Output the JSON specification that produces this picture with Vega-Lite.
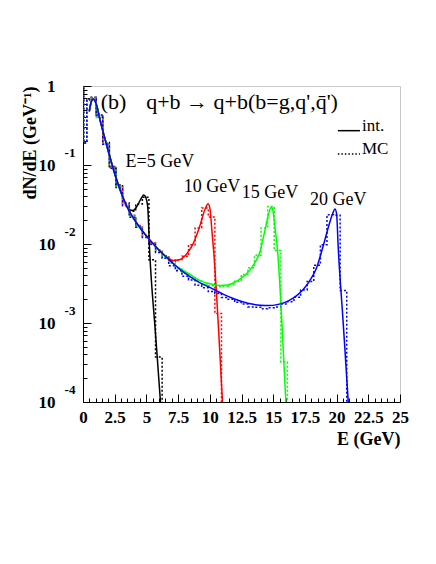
{
  "$schema": "https://vega.github.io/schema/vega-lite/v6.json",
  "width": 317,
  "height": 316,
  "autosize": "none",
  "padding": {"left": 83, "top": 86, "right": 36, "bottom": 162},
  "background": "white",
  "config": {"view": {"stroke": "#c8c8c8", "strokeWidth": 1}, "font": "Liberation Serif"},
  "datasets": {
    "int": [
      {"E":0.5,"v":0.479,"s":"5"},{"E":0.65,"v":0.631,"s":"5"},{"E":0.8,"v":0.684,"s":"5"},{"E":0.95,"v":0.646,"s":"5"},{"E":1.1,"v":0.55,"s":"5"},{"E":1.3,"v":0.398,"s":"5"},{"E":1.6,"v":0.257,"s":"5"},{"E":1.9,"v":0.17,"s":"5"},{"E":2.3,"v":0.1,"s":"5"},{"E":2.7,"v":0.0617,"s":"5"},{"E":3.2,"v":0.0372,"s":"5"},
      {"E":3.6,"v":0.0275,"s":"5"},{"E":3.95,"v":0.0266,"s":"5"},{"E":4.3,"v":0.0309,"s":"5"},{"E":4.6,"v":0.038,"s":"5"},{"E":4.79,"v":0.0417,"s":"5"},{"E":4.95,"v":0.0389,"s":"5"},{"E":5.1,"v":0.0302,"s":"5"},{"E":5.26,"v":0.00794,"s":"5"},{"E":5.7,"v":0.000794,"s":"5"},{"E":6.11,"v":0.0001,"s":"5"},{"E":6.2,"v":0.00006,"s":"5"},

      {"E":0.5,"v":0.479,"s":"10"},{"E":0.65,"v":0.631,"s":"10"},{"E":0.8,"v":0.684,"s":"10"},{"E":0.95,"v":0.646,"s":"10"},{"E":1.1,"v":0.55,"s":"10"},{"E":1.3,"v":0.398,"s":"10"},{"E":1.6,"v":0.257,"s":"10"},{"E":1.9,"v":0.17,"s":"10"},{"E":2.3,"v":0.1,"s":"10"},{"E":2.7,"v":0.0617,"s":"10"},{"E":3.2,"v":0.0372,"s":"10"},
      {"E":3.7,"v":0.0251,"s":"10"},{"E":4.3,"v":0.0178,"s":"10"},{"E":5.0,"v":0.0126,"s":"10"},{"E":5.5,"v":0.0102,"s":"10"},{"E":6.1,"v":0.0081,"s":"10"},{"E":6.6,"v":0.0069,"s":"10"},{"E":7.1,"v":0.00617,"s":"10"},{"E":7.6,"v":0.00631,"s":"10"},{"E":8.2,"v":0.00759,"s":"10"},{"E":8.7,"v":0.0102,"s":"10"},{"E":9.2,"v":0.0166,"s":"10"},{"E":9.6,"v":0.0269,"s":"10"},{"E":9.87,"v":0.0324,"s":"10"},{"E":10.02,"v":0.0275,"s":"10"},{"E":10.15,"v":0.0158,"s":"10"},{"E":10.3,"v":0.00832,"s":"10"},{"E":11.0,"v":0.0001,"s":"10"},{"E":11.1,"v":0.00005,"s":"10"},

      {"E":0.5,"v":0.479,"s":"15"},{"E":0.65,"v":0.631,"s":"15"},{"E":0.8,"v":0.684,"s":"15"},{"E":0.95,"v":0.646,"s":"15"},{"E":1.1,"v":0.55,"s":"15"},{"E":1.3,"v":0.398,"s":"15"},{"E":1.6,"v":0.257,"s":"15"},{"E":1.9,"v":0.17,"s":"15"},{"E":2.3,"v":0.1,"s":"15"},{"E":2.7,"v":0.0617,"s":"15"},{"E":3.2,"v":0.0372,"s":"15"},
      {"E":3.7,"v":0.0251,"s":"15"},{"E":4.3,"v":0.0178,"s":"15"},{"E":5.0,"v":0.0126,"s":"15"},{"E":5.5,"v":0.0102,"s":"15"},{"E":6.0,"v":0.00832,"s":"15"},{"E":6.6,"v":0.00676,"s":"15"},{"E":7.2,"v":0.0055,"s":"15"},{"E":7.8,"v":0.00475,"s":"15"},{"E":8.4,"v":0.00415,"s":"15"},{"E":9.2,"v":0.00347,"s":"15"},{"E":10.0,"v":0.00313,"s":"15"},{"E":10.8,"v":0.00299,"s":"15"},{"E":11.4,"v":0.00302,"s":"15"},{"E":11.9,"v":0.00324,"s":"15"},{"E":12.4,"v":0.00363,"s":"15"},{"E":13.0,"v":0.00437,"s":"15"},{"E":13.5,"v":0.00562,"s":"15"},{"E":13.95,"v":0.00794,"s":"15"},{"E":14.25,"v":0.0126,"s":"15"},{"E":14.55,"v":0.0209,"s":"15"},{"E":14.75,"v":0.0275,"s":"15"},{"E":14.87,"v":0.0295,"s":"15"},{"E":15.0,"v":0.0251,"s":"15"},{"E":15.15,"v":0.0158,"s":"15"},{"E":15.34,"v":0.00832,"s":"15"},{"E":16.0,"v":0.0001,"s":"15"},{"E":16.1,"v":0.00005,"s":"15"},

      {"E":0.5,"v":0.479,"s":"20"},{"E":0.65,"v":0.631,"s":"20"},{"E":0.8,"v":0.684,"s":"20"},{"E":0.95,"v":0.646,"s":"20"},{"E":1.1,"v":0.55,"s":"20"},{"E":1.3,"v":0.398,"s":"20"},{"E":1.6,"v":0.257,"s":"20"},{"E":1.9,"v":0.17,"s":"20"},{"E":2.3,"v":0.1,"s":"20"},{"E":2.7,"v":0.0617,"s":"20"},{"E":3.2,"v":0.0372,"s":"20"},
      {"E":3.7,"v":0.0251,"s":"20"},{"E":4.3,"v":0.0178,"s":"20"},{"E":5.0,"v":0.0126,"s":"20"},{"E":5.5,"v":0.0102,"s":"20"},{"E":6.0,"v":0.00832,"s":"20"},{"E":6.6,"v":0.00676,"s":"20"},{"E":7.2,"v":0.0055,"s":"20"},{"E":7.8,"v":0.00457,"s":"20"},{"E":8.5,"v":0.0038,"s":"20"},{"E":9.2,"v":0.00324,"s":"20"},{"E":10.0,"v":0.00282,"s":"20"},{"E":11.0,"v":0.00234,"s":"20"},{"E":12.0,"v":0.002,"s":"20"},{"E":13.0,"v":0.00178,"s":"20"},{"E":14.0,"v":0.00168,"s":"20"},{"E":14.6,"v":0.00166,"s":"20"},{"E":15.4,"v":0.00172,"s":"20"},{"E":16.2,"v":0.00191,"s":"20"},{"E":16.8,"v":0.00219,"s":"20"},{"E":17.4,"v":0.00269,"s":"20"},{"E":17.9,"v":0.00347,"s":"20"},{"E":18.4,"v":0.0049,"s":"20"},{"E":18.95,"v":0.00955,"s":"20"},{"E":19.4,"v":0.0174,"s":"20"},{"E":19.7,"v":0.0245,"s":"20"},{"E":19.87,"v":0.0277,"s":"20"},{"E":20.0,"v":0.024,"s":"20"},{"E":20.13,"v":0.00891,"s":"20"},{"E":20.5,"v":0.00112,"s":"20"},{"E":20.92,"v":0.0001,"s":"20"},{"E":21.0,"v":0.00006,"s":"20"}
    ],
    "mc": [
      {"E":0,"v":1.5,"s":"5"},{"E":0.05,"v":0.19,"s":"5"},{"E":0.3,"v":0.69,"s":"5"},{"E":0.52,"v":0.72,"s":"5"},{"E":1.04,"v":0.43,"s":"5"},{"E":1.56,"v":0.192,"s":"5"},{"E":2.08,"v":0.096,"s":"5"},{"E":2.6,"v":0.056,"s":"5"},{"E":3.12,"v":0.033,"s":"5"},{"E":3.64,"v":0.026,"s":"5"},{"E":4.16,"v":0.032,"s":"5"},{"E":4.68,"v":0.039,"s":"5"},{"E":5.2,"v":0.0063,"s":"5"},{"E":5.72,"v":0.00037,"s":"5"},{"E":6.24,"v":0.00001,"s":"5"},{"E":6.7,"v":0.00001,"s":"5"},

      {"E":0,"v":1.5,"s":"10"},{"E":0.05,"v":0.19,"s":"10"},{"E":0.3,"v":0.68,"s":"10"},{"E":0.52,"v":0.71,"s":"10"},{"E":1.04,"v":0.42,"s":"10"},{"E":1.56,"v":0.19,"s":"10"},{"E":2.08,"v":0.094,"s":"10"},{"E":2.6,"v":0.055,"s":"10"},{"E":3.12,"v":0.032,"s":"10"},{"E":3.64,"v":0.0232,"s":"10"},{"E":4.16,"v":0.0171,"s":"10"},{"E":4.68,"v":0.0128,"s":"10"},{"E":5.2,"v":0.0103,"s":"10"},{"E":5.72,"v":0.0084,"s":"10"},{"E":6.24,"v":0.0071,"s":"10"},{"E":6.76,"v":0.006,"s":"10"},{"E":7.28,"v":0.0063,"s":"10"},{"E":7.8,"v":0.007,"s":"10"},{"E":8.32,"v":0.0098,"s":"10"},{"E":8.84,"v":0.016,"s":"10"},{"E":9.36,"v":0.0285,"s":"10"},{"E":9.88,"v":0.022,"s":"10"},{"E":10.4,"v":0.00132,"s":"10"},{"E":10.92,"v":0.00001,"s":"10"},{"E":11.4,"v":0.00001,"s":"10"},

      {"E":0,"v":1.5,"s":"15"},{"E":0.05,"v":0.19,"s":"15"},{"E":0.3,"v":0.67,"s":"15"},{"E":0.52,"v":0.7,"s":"15"},{"E":1.04,"v":0.4,"s":"15"},{"E":1.56,"v":0.188,"s":"15"},{"E":2.08,"v":0.093,"s":"15"},{"E":2.6,"v":0.054,"s":"15"},{"E":3.12,"v":0.0318,"s":"15"},{"E":3.64,"v":0.0226,"s":"15"},{"E":4.16,"v":0.0168,"s":"15"},{"E":4.68,"v":0.0126,"s":"15"},{"E":5.2,"v":0.0101,"s":"15"},{"E":5.72,"v":0.0081,"s":"15"},{"E":6.24,"v":0.0068,"s":"15"},{"E":6.76,"v":0.0057,"s":"15"},{"E":7.28,"v":0.0048,"s":"15"},{"E":7.8,"v":0.0043,"s":"15"},{"E":8.32,"v":0.0037,"s":"15"},{"E":8.84,"v":0.0034,"s":"15"},{"E":9.36,"v":0.0031,"s":"15"},{"E":9.88,"v":0.00296,"s":"15"},{"E":10.4,"v":0.00288,"s":"15"},{"E":10.92,"v":0.00292,"s":"15"},{"E":11.44,"v":0.00308,"s":"15"},{"E":11.96,"v":0.00338,"s":"15"},{"E":12.48,"v":0.0041,"s":"15"},{"E":13.0,"v":0.005,"s":"15"},{"E":13.52,"v":0.0072,"s":"15"},{"E":14.04,"v":0.016,"s":"15"},{"E":14.56,"v":0.0298,"s":"15"},{"E":15.08,"v":0.0083,"s":"15"},{"E":15.6,"v":0.00032,"s":"15"},{"E":16.12,"v":0.00001,"s":"15"},{"E":16.6,"v":0.00001,"s":"15"},

      {"E":0,"v":1.5,"s":"20"},{"E":0.05,"v":0.19,"s":"20"},{"E":0.3,"v":0.66,"s":"20"},{"E":0.52,"v":0.69,"s":"20"},{"E":1.04,"v":0.41,"s":"20"},{"E":1.56,"v":0.183,"s":"20"},{"E":2.08,"v":0.091,"s":"20"},{"E":2.6,"v":0.052,"s":"20"},{"E":3.12,"v":0.0305,"s":"20"},{"E":3.64,"v":0.0218,"s":"20"},{"E":4.16,"v":0.0163,"s":"20"},{"E":4.68,"v":0.0121,"s":"20"},{"E":5.2,"v":0.0099,"s":"20"},{"E":5.72,"v":0.0078,"s":"20"},{"E":6.24,"v":0.0066,"s":"20"},{"E":6.76,"v":0.0053,"s":"20"},{"E":7.28,"v":0.0046,"s":"20"},{"E":7.8,"v":0.0039,"s":"20"},{"E":8.32,"v":0.0035,"s":"20"},{"E":8.84,"v":0.003,"s":"20"},{"E":9.36,"v":0.0028,"s":"20"},{"E":9.88,"v":0.0025,"s":"20"},{"E":10.4,"v":0.00236,"s":"20"},{"E":10.92,"v":0.0021,"s":"20"},{"E":11.44,"v":0.002,"s":"20"},{"E":11.96,"v":0.00183,"s":"20"},{"E":12.48,"v":0.00174,"s":"20"},{"E":13.0,"v":0.0016,"s":"20"},{"E":13.52,"v":0.00158,"s":"20"},{"E":14.04,"v":0.00151,"s":"20"},{"E":14.56,"v":0.00156,"s":"20"},{"E":15.08,"v":0.00159,"s":"20"},{"E":15.6,"v":0.00174,"s":"20"},{"E":16.12,"v":0.00186,"s":"20"},{"E":16.64,"v":0.00212,"s":"20"},{"E":17.16,"v":0.00262,"s":"20"},{"E":17.68,"v":0.00336,"s":"20"},{"E":18.2,"v":0.0054,"s":"20"},{"E":18.72,"v":0.0098,"s":"20"},{"E":19.24,"v":0.0234,"s":"20"},{"E":19.76,"v":0.0232,"s":"20"},{"E":20.28,"v":0.00257,"s":"20"},{"E":20.8,"v":0.00001,"s":"20"},{"E":21.3,"v":0.00001,"s":"20"}
    ],
    "ann": [
      {"E":6.06,"v":0.11,"t":"E=5 GeV"},
      {"E":10.17,"v":0.0527,"t":"10 GeV"},
      {"E":14.74,"v":0.0438,"t":"15 GeV"},
      {"E":20.13,"v":0.0361,"t":"20 GeV"}
    ],
    "head": [
      {"E":1.4,"v":0.63,"t":"(b)"},
      {"E":4.98,"v":0.63,"t":"q+b → q+b(b=g,q',q̄')"}
    ],
    "leg": [
      {"E":20.1,"E2":21.84,"v":0.272,"k":"int","t":"int.","tv":0.312},
      {"E":20.1,"E2":21.84,"v":0.138,"k":"MC","t":"MC","tv":0.16}
    ],
    "expo": [
      {"E":0,"v":0.1,"t":"-1"},
      {"E":0,"v":0.01,"t":"-2"},
      {"E":0,"v":0.001,"t":"-3"},
      {"E":0,"v":0.0001,"t":"-4"}
    ]
  },
  "resolve": {"axis": {"x": "independent", "y": "independent"}},
  "layer": [
    {
      "data": {"name": "mc"},
      "mark": {"type": "line", "interpolate": "step-after", "clip": true, "strokeDash": [2, 2], "strokeWidth": 1.5},
      "encoding": {
        "x": {"field": "E", "type": "quantitative", "scale": {"domain": [0, 25], "nice": false, "zero": false},
          "axis": {"orient": "bottom", "values": [0, 2.5, 5, 7.5, 10, 12.5, 15, 17.5, 20, 22.5, 25], "labelExpr": "'' + datum.value", "grid": false,
            "tickSize": -8, "tickColor": "#000", "domainColor": "#000", "labelFont": "Liberation Serif", "labelFontWeight": "bold", "labelFontSize": 17, "labelColor": "#000", "labelPadding": 15, "labelFlush": false, "labelOverlap": false,
            "title": "E (GeV)", "titleFont": "Liberation Serif", "titleFontWeight": "bold", "titleFontSize": 18, "titleColor": "#000", "titleAnchor": "end", "titleAlign": "right", "titleX": 317, "titleY": 42, "titleBaseline": "alphabetic"}},
        "y": {"field": "v", "type": "quantitative", "scale": {"type": "log", "domain": [0.0001, 1], "nice": false},
          "axis": {"orient": "left", "values": [0.0001, 0.001, 0.01, 0.1, 1], "labelExpr": "datum.value >= 0.5 ? '1' : '10'", "grid": false,
            "tickSize": -8, "tickColor": "#000", "domainColor": "#000", "labelFont": "Liberation Serif", "labelFontWeight": "bold", "labelFontSize": 17, "labelColor": "#000", "labelPadding": 36, "labelFlush": false, "labelOverlap": false, "labelBaseline": "middle",
            "title": "dN/dE (GeV⁻¹)", "titleFont": "Liberation Serif", "titleFontWeight": "bold", "titleFontSize": 18, "titleColor": "#000", "titleAngle": -90, "titleAlign": "right", "titleX": -53, "titleY": 0, "titleBaseline": "middle"}},
        "color": {"field": "s", "type": "nominal", "scale": {"domain": ["5", "10", "15", "20"], "range": ["#000000", "#ff0000", "#00ff00", "#0000ff"]}, "legend": null}
      }
    },
    {
      "data": {"name": "int"},
      "mark": {"type": "line", "interpolate": "monotone", "clip": true, "strokeWidth": 1.5},
      "encoding": {
        "x": {"field": "E", "type": "quantitative",
          "axis": {"orient": "bottom", "values": [0.5,1,1.5,2,3,3.5,4,4.5,5.5,6,6.5,7,8,8.5,9,9.5,10.5,11,11.5,12,13,13.5,14,14.5,15.5,16,16.5,17,18,18.5,19,19.5,20.5,21,21.5,22,23,23.5,24,24.5], "labels": false, "domain": false, "grid": false, "tickSize": -4, "tickColor": "#000", "title": null}},
        "y": {"field": "v", "type": "quantitative",
          "axis": {"orient": "left", "values": [0.0002,0.0003,0.0004,0.0005,0.0006,0.0007,0.0008,0.0009,0.002,0.003,0.004,0.005,0.006,0.007,0.008,0.009,0.02,0.03,0.04,0.05,0.06,0.07,0.08,0.09,0.2,0.3,0.4,0.5,0.6,0.7,0.8,0.9], "labels": false, "domain": false, "grid": false, "tickSize": -4, "tickColor": "#000", "title": null}},
        "color": {"field": "s", "type": "nominal", "legend": null}
      }
    },
    {
      "data": {"name": "ann"},
      "mark": {"type": "text", "font": "Liberation Serif", "fontSize": 18, "align": "center", "baseline": "middle", "color": "#000"},
      "encoding": {
        "x": {"field": "E", "type": "quantitative", "axis": null},
        "y": {"field": "v", "type": "quantitative", "axis": null},
        "text": {"field": "t"}
      }
    },
    {
      "data": {"name": "head"},
      "mark": {"type": "text", "font": "Liberation Serif", "fontSize": 22, "align": "left", "baseline": "middle", "color": "#000"},
      "encoding": {
        "x": {"field": "E", "type": "quantitative", "axis": null},
        "y": {"field": "v", "type": "quantitative", "axis": null},
        "text": {"field": "t"}
      }
    },
    {
      "data": {"name": "leg"},
      "transform": [{"filter": "datum.k == 'int'"}],
      "mark": {"type": "rule", "color": "#000", "strokeWidth": 1.5},
      "encoding": {
        "x": {"field": "E", "type": "quantitative", "axis": null},
        "x2": {"field": "E2"},
        "y": {"field": "v", "type": "quantitative", "axis": null}
      }
    },
    {
      "data": {"name": "leg"},
      "transform": [{"filter": "datum.k == 'MC'"}],
      "mark": {"type": "rule", "color": "#000", "strokeWidth": 1.5, "strokeDash": [1.5, 2]},
      "encoding": {
        "x": {"field": "E", "type": "quantitative", "axis": null},
        "x2": {"field": "E2"},
        "y": {"field": "v", "type": "quantitative", "axis": null}
      }
    },
    {
      "data": {"name": "leg"},
      "mark": {"type": "text", "font": "Liberation Serif", "fontSize": 17, "align": "left", "baseline": "middle", "color": "#000", "dx": 2},
      "encoding": {
        "x": {"field": "E2", "type": "quantitative", "axis": null},
        "y": {"field": "tv", "type": "quantitative", "axis": null},
        "text": {"field": "t"}
      }
    },
    {
      "data": {"name": "expo"},
      "mark": {"type": "text", "font": "Liberation Serif", "fontSize": 13, "fontWeight": "bold", "align": "center", "baseline": "middle", "color": "#000", "dx": -13, "dy": -12},
      "encoding": {
        "x": {"field": "E", "type": "quantitative", "axis": null},
        "y": {"field": "v", "type": "quantitative", "axis": null},
        "text": {"field": "t"}
      }
    }
  ]
}
